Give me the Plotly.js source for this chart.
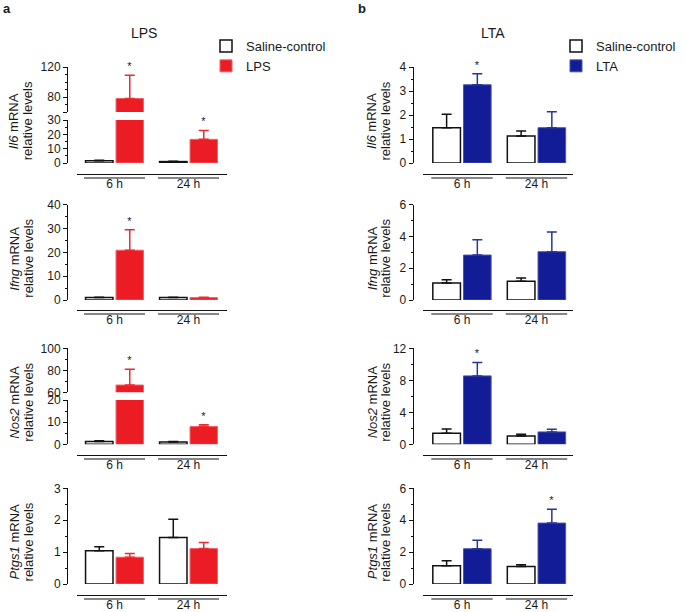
<!DOCTYPE html>
<html><head><meta charset="utf-8">
<script src="https://cdn.plot.ly/plotly-3.0.1.min.js"></script>
<style>html,body{margin:0;padding:0;background:#fff}#chart{width:685px;height:612px}</style>
</head><body><div id="chart"></div>
<script>
// ---------- DATA ----------
const timepoints = ['6 h', '24 h'];
const genes = ['Il6', 'Ifng', 'Nos2', 'Ptgs1'];
const controlName = 'Saline-control';
const treatmentA = 'LPS';
const treatmentB = 'LTA';

// LPS experiment (mean, SEM), per gene, order: 6 h, 24 h
const il6LpsSaline = [1.5, 1.0];     const il6LpsSalineSem = [0.5, 0.3];
const il6Lps = [78, 16.5];           const il6LpsSem = [31, 6.2];
const il6LpsSig = [true, true];
const ifngLpsSaline = [1.0, 1.0];    const ifngLpsSalineSem = [0.2, 0.2];
const ifngLps = [20.9, 1.0];         const ifngLpsSem = [8.6, 0.2];
const ifngLpsSig = [true, false];
const nos2LpsSaline = [1.3, 1.0];    const nos2LpsSalineSem = [0.3, 0.3];
const nos2Lps = [66.6, 8.0];         const nos2LpsSem = [14.3, 0.8];
const nos2LpsSig = [true, true];
const ptgs1LpsSaline = [1.04, 1.46]; const ptgs1LpsSalineSem = [0.13, 0.57];
const ptgs1Lps = [0.84, 1.11];       const ptgs1LpsSem = [0.12, 0.19];
const ptgs1LpsSig = [false, false];

// LTA experiment
const il6LtaSaline = [1.47, 1.12];   const il6LtaSalineSem = [0.56, 0.21];
const il6Lta = [3.26, 1.47];         const il6LtaSem = [0.46, 0.67];
const il6LtaSig = [true, false];
const ifngLtaSaline = [1.07, 1.18];  const ifngLtaSalineSem = [0.21, 0.20];
const ifngLta = [2.83, 3.04];        const ifngLtaSem = [0.97, 1.24];
const ifngLtaSig = [false, false];
const nos2LtaSaline = [1.38, 1.05];  const nos2LtaSalineSem = [0.55, 0.21];
const nos2Lta = [8.56, 1.55];        const nos2LtaSem = [1.68, 0.34];
const nos2LtaSig = [true, false];
const ptgs1LtaSaline = [1.15, 1.09]; const ptgs1LtaSalineSem = [0.31, 0.12];
const ptgs1Lta = [2.21, 3.82];       const ptgs1LtaSem = [0.53, 0.86];
const ptgs1LtaSig = [false, true];

// ---------- LAYOUT HELPERS ----------
const W = 685, H = 612;
const px = v => v / W;
const py = v => 1 - v / H;
const FONT = 'Liberation Sans, Arial, sans-serif';
const TXT = '#1a1a1a';

const rows = [
  {top: 67, bottom: 163, xline: 174},
  {top: 204.7, bottom: 300, xline: 310},
  {top: 348.4, bottom: 444.3, xline: 455},
  {top: 488.3, bottom: 584, xline: 595}
];
const cols = [
  {yx: 67, x0: 77, x1: 227, xr: [-0.507, 1.52], tx: [14.3, 28.3], legend: 'legend',
   fill: '#ec1c24', line: '#f26166', err: '#ec2a32', name: treatmentA},
  {yx: 412.7, x0: 423, x1: 573, xr: [-0.523, 1.49], tx: [372, 385.5], legend: 'legend2',
   fill: '#111c96', line: '#4b55ad', err: '#2a3598', name: treatmentB}
];

const panels = [
  {col: 0, row: 0, gene: 'Il6', ctl: il6LpsSaline, ctlSem: il6LpsSalineSem, trt: il6Lps, trtSem: il6LpsSem, sig: il6LpsSig,
   axes: [{range: [0, 30], tickvals: [0, 10, 20, 30], minor: 5, bottom: 163, top: 120},
          {range: [60, 120], tickvals: [60, 80, 120], ticktext: ['', '80', '120'], minorvals: [70, 90, 100, 110], bottom: 112, top: 67}]},
  {col: 0, row: 1, gene: 'Ifng', ctl: ifngLpsSaline, ctlSem: ifngLpsSalineSem, trt: ifngLps, trtSem: ifngLpsSem, sig: ifngLpsSig,
   axes: [{range: [0, 40], tickvals: [0, 10, 20, 30, 40], minor: 5}]},
  {col: 0, row: 2, gene: 'Nos2', ctl: nos2LpsSaline, ctlSem: nos2LpsSalineSem, trt: nos2Lps, trtSem: nos2LpsSem, sig: nos2LpsSig,
   axes: [{range: [0, 20], tickvals: [0, 10, 20], minor: 5, bottom: 444.3, top: 400},
          {range: [60, 100], tickvals: [60, 80, 100], minorvals: [70, 90], bottom: 392.3, top: 348.4}]},
  {col: 0, row: 3, gene: 'Ptgs1', ctl: ptgs1LpsSaline, ctlSem: ptgs1LpsSalineSem, trt: ptgs1Lps, trtSem: ptgs1LpsSem, sig: ptgs1LpsSig,
   axes: [{range: [0, 3], tickvals: [0, 1, 2, 3], minor: 0.5}]},
  {col: 1, row: 0, gene: 'Il6', ctl: il6LtaSaline, ctlSem: il6LtaSalineSem, trt: il6Lta, trtSem: il6LtaSem, sig: il6LtaSig,
   axes: [{range: [0, 4], tickvals: [0, 1, 2, 3, 4], minor: 0.5}]},
  {col: 1, row: 1, gene: 'Ifng', ctl: ifngLtaSaline, ctlSem: ifngLtaSalineSem, trt: ifngLta, trtSem: ifngLtaSem, sig: ifngLtaSig,
   axes: [{range: [0, 6], tickvals: [0, 2, 4, 6], minor: 1}]},
  {col: 1, row: 2, gene: 'Nos2', ctl: nos2LtaSaline, ctlSem: nos2LtaSalineSem, trt: nos2Lta, trtSem: nos2LtaSem, sig: nos2LtaSig,
   axes: [{range: [0, 12], tickvals: [0, 4, 8, 12], minor: 2}]},
  {col: 1, row: 3, gene: 'Ptgs1', ctl: ptgs1LtaSaline, ctlSem: ptgs1LtaSalineSem, trt: ptgs1Lta, trtSem: ptgs1LtaSem, sig: ptgs1LtaSig,
   axes: [{range: [0, 6], tickvals: [0, 2, 4, 6], minor: 1}]}
];

const traces = [];
const layout = {
  width: W, height: H, margin: {l: 0, r: 0, t: 0, b: 0},
  paper_bgcolor: '#fff', plot_bgcolor: 'rgba(0,0,0,0)',
  font: {family: FONT, size: 12, color: TXT},
  barmode: 'group', bargap: 0.176, bargroupgap: 0.1,
  showlegend: true,
  legend: {x: px(206), y: py(31), xanchor: 'left', yanchor: 'top', bgcolor: 'rgba(0,0,0,0)',
           font: {size: 13, color: TXT}, tracegroupgap: 0, itemclick: false},
  legend2: {x: px(556), y: py(31), xanchor: 'left', yanchor: 'top', bgcolor: 'rgba(0,0,0,0)',
            font: {size: 13, color: TXT}, tracegroupgap: 0, itemclick: false},
  shapes: [], annotations: []
};

let extraY = 9;
panels.forEach((p, idx) => {
  const c = cols[p.col], r = rows[p.row];
  const n = idx + 1;
  const xName = 'xaxis' + (n === 1 ? '' : n);
  const xRef = 'x' + (n === 1 ? '' : n);
  layout[xName] = {
    type: 'category', categoryorder: 'array', categoryarray: timepoints,
    domain: [px(c.x0), px(c.x1)], range: c.xr, anchor: 'free', position: py(r.xline),
    showline: true, linecolor: '#111', linewidth: 1.3, ticks: '', showgrid: false, zeroline: false,
    ticklabelstandoff: -2,
    tickfont: {size: 12, color: TXT}, fixedrange: true
  };
  p.axes.forEach((a, ai) => {
    const yn = ai === 0 ? n : extraY++;
    const yName = 'yaxis' + (yn === 1 ? '' : yn);
    const yRef = 'y' + (yn === 1 ? '' : yn);
    const bot = a.bottom !== undefined ? a.bottom : r.bottom;
    const top = a.top !== undefined ? a.top : r.top;
    const ax = {
      domain: [py(bot), py(top)], range: a.range, anchor: 'free', position: px(c.yx),
      showline: true, linecolor: '#111', linewidth: 1, ticks: 'outside', ticklen: 4, tickwidth: 1,
      tickcolor: '#111', showgrid: false, zeroline: false, tickmode: 'array', tickvals: a.tickvals,
      tickfont: {size: 12, color: TXT}, fixedrange: true
    };
    if (a.ticktext) ax.ticktext = a.ticktext;
    if (a.minor) ax.minor = {dtick: a.minor, ticks: 'outside', ticklen: 2, tickwidth: 1, tickcolor: '#111'};
    if (a.minorvals) ax.minor = {tickmode: 'array', tickvals: a.minorvals, ticks: 'outside', ticklen: 2, tickwidth: 1, tickcolor: '#111'};
    layout[yName] = ax;

    const first = ai === 0;
    const showLeg = first && (idx === 0 || idx === 4);
    traces.push({
      type: 'bar', x: timepoints, y: p.ctl, xaxis: xRef, yaxis: yRef, offsetgroup: 'ctl',
      name: controlName, legend: c.legend, showlegend: showLeg, hoverinfo: 'skip',
      marker: {color: '#ffffff', line: {color: '#111', width: 1.5}},
      error_y: {type: 'data', symmetric: false, array: p.ctlSem, arrayminus: p.ctlSem.map(() => 0),
                color: '#111', thickness: 1.5, width: 5}
    });
    traces.push({
      type: 'bar', x: timepoints, y: p.trt, xaxis: xRef, yaxis: yRef, offsetgroup: 'trt',
      name: c.name, legend: c.legend, showlegend: showLeg, hoverinfo: 'skip',
      marker: {color: c.fill, line: {color: c.line, width: 1}},
      error_y: {type: 'data', symmetric: false, array: p.trtSem, arrayminus: p.trtSem.map(() => 0),
                color: c.err, thickness: 1.5, width: 5}
    });
    // significance markers sit on top of the upper error bar
    const tops = p.trt.map((m, i) => m + p.trtSem[i]);
    traces.push({
      type: 'bar', x: timepoints, y: tops, xaxis: xRef, yaxis: yRef, offsetgroup: 'trt',
      showlegend: false, hoverinfo: 'skip', cliponaxis: false,
      marker: {color: 'rgba(0,0,0,0)', line: {width: 0}},
      text: tops.map((t, i) => (p.sig[i] && t >= a.range[0] && t <= a.range[1]) ? '*' : ''),
      textposition: 'outside', textfont: {size: 11, color: TXT}
    });
  });

  // underline under each time-point group
  timepoints.forEach((t, i) => {
    layout.shapes.push({type: 'line', xref: xRef, yref: 'paper', x0: i - 0.412, x1: i + 0.412,
      y0: py(r.xline + 4), y1: py(r.xline + 4), line: {color: '#111', width: 1.2}});
  });

  // y-axis title (two lines)
  const yc = (r.top + r.bottom) / 2 + 6;
  layout.annotations.push({xref: 'paper', yref: 'paper', x: px(c.tx[0]), y: py(yc), textangle: -90,
    text: '<i>' + p.gene + '</i> mRNA', showarrow: false, font: {size: 13, color: TXT}, xanchor: 'center', yanchor: 'middle'});
  layout.annotations.push({xref: 'paper', yref: 'paper', x: px(c.tx[1]), y: py(yc), textangle: -90,
    text: 'relative levels', showarrow: false, font: {size: 13, color: TXT}, xanchor: 'center', yanchor: 'middle'});
});

// panel titles and letters
layout.annotations.push({xref: 'paper', yref: 'paper', x: px(143.5), y: py(33), text: treatmentA, showarrow: false,
  font: {size: 14, color: TXT}, xanchor: 'center', yanchor: 'middle'});
layout.annotations.push({xref: 'paper', yref: 'paper', x: px(493), y: py(33), text: treatmentB, showarrow: false,
  font: {size: 14, color: TXT}, xanchor: 'center', yanchor: 'middle'});
layout.annotations.push({xref: 'paper', yref: 'paper', x: px(1), y: py(9), text: '<b>a</b>', showarrow: false,
  font: {size: 13, color: TXT}, xanchor: 'left', yanchor: 'middle'});
layout.annotations.push({xref: 'paper', yref: 'paper', x: px(356), y: py(9), text: '<b>b</b>', showarrow: false,
  font: {size: 13, color: TXT}, xanchor: 'left', yanchor: 'middle'});

Plotly.newPlot('chart', traces, layout, {displayModeBar: false, staticPlot: true});
</script>
</body></html>
